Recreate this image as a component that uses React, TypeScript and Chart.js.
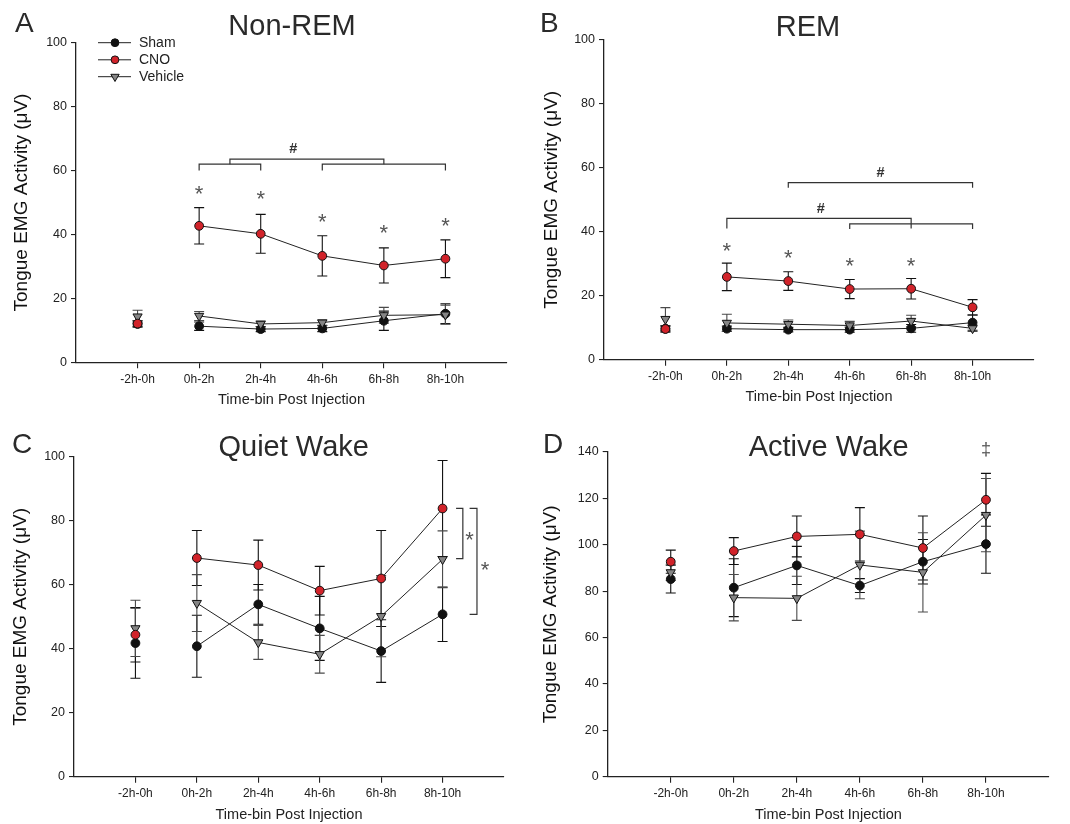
import React, { useEffect, useRef } from "react";
import { Chart, registerables } from "chart.js";

Chart.register(...registerables);

const FONT = "'Liberation Sans', Arial, Helvetica, sans-serif";

// ---------- shared labels ----------
const CATEGORIES = ["-2h-0h", "0h-2h", "2h-4h", "4h-6h", "6h-8h", "8h-10h"];
const SERIES_NAMES = ["Sham", "CNO", "Vehicle"];
const X_TITLE = "Time-bin Post Injection";
const Y_TITLE = "Tongue EMG Activity (\u03bcV)";

// ---------- A: Non-REM ----------
const NREM_SHAM = [12.0, 11.3, 10.4, 10.6, 13.0, 15.2];
const NREM_SHAM_ERR = [1.0, 1.3, 0.8, 1.0, 3.0, 3.1];
const NREM_CNO = [12.1, 42.7, 40.2, 33.3, 30.3, 32.4];
const NREM_CNO_ERR = [0.8, 5.7, 6.1, 6.3, 5.5, 5.9];
const NREM_VEH = [14.3, 14.5, 12.0, 12.4, 14.7, 14.9];
const NREM_VEH_ERR = [2.0, 1.4, 0.9, 0.9, 2.5, 3.0];
const NREM_MARKS = [
  { x: 2, y: 54.6, text: "*" },
  { x: 3, y: 52.8, text: "*" },
  { x: 4, y: 45.8, text: "*" },
  { x: 5, y: 42.4, text: "*" },
  { x: 6, y: 44.3, text: "*" },
  { x: 3.53, y: 67, text: "#" },
];
const NREM_BRACKETS = [
  { x1: 2, x2: 3, y: 62, leg: 60 },
  { x1: 4, x2: 6, y: 62, leg: 60 },
  { x1: 2.5, x2: 5, y: 63.6, leg: 62 },
];

// ---------- B: REM ----------
const REM_SHAM = [9.7, 9.7, 9.4, 9.4, 9.8, 11.6];
const REM_SHAM_ERR = [0.8, 0.8, 0.7, 0.8, 1.2, 2.4];
const REM_CNO = [9.6, 25.9, 24.6, 22.1, 22.2, 16.4];
const REM_CNO_ERR = [1.0, 4.3, 2.9, 3.0, 3.2, 2.4];
const REM_VEH = [12.7, 11.5, 11.1, 10.7, 12.1, 9.8];
const REM_VEH_ERR = [3.6, 2.7, 1.3, 1.3, 1.8, 1.0];
const REM_MARKS = [
  { x: 2, y: 35.9, text: "*" },
  { x: 3, y: 33.5, text: "*" },
  { x: 4, y: 31.0, text: "*" },
  { x: 5, y: 31.0, text: "*" },
  { x: 4.5, y: 58.7, text: "#" },
  { x: 3.53, y: 47.4, text: "#" },
];
const REM_BRACKETS = [
  { x1: 3, x2: 6, y: 55.4, leg: 53.8 },
  { x1: 2, x2: 5, y: 44.2, leg: 41.0 },
  { x1: 4, x2: 6, y: 42.5, leg: 40.9 },
];

// ---------- C: Quiet Wake ----------
const QW_SHAM = [41.8, 40.8, 53.9, 46.4, 39.3, 50.8];
const QW_SHAM_ERR = [11.0, 9.7, 6.2, 10.0, 9.8, 8.5];
const QW_CNO = [44.4, 68.4, 66.2, 58.2, 62.0, 83.9];
const QW_CNO_ERR = [8.5, 8.6, 7.8, 7.6, 15.0, 15.0];
const QW_VEH = [46.4, 54.3, 42.0, 38.3, 50.2, 68.0];
const QW_VEH_ERR = [8.8, 8.9, 5.3, 5.9, 12.7, 8.9];
const QW_MARKS = [
  { x: 6.44, y: 75.9, text: "*" },
  { x: 6.69, y: 66.5, text: "*" },
];
const QW_VBRACKETS = [
  { y1: 83.9, y2: 68.2, x: 6.33, leg: 6.22 },
  { y1: 83.9, y2: 50.8, x: 6.56, leg: 6.44 },
];

// ---------- D: Active Wake ----------
const AW_SHAM = [85.2, 81.5, 91.1, 82.4, 92.7, 100.3];
const AW_SHAM_ERR = [6.0, 12.5, 8.2, 3.0, 9.6, 12.6];
const AW_CNO = [92.7, 97.3, 103.6, 104.5, 98.6, 119.4];
const AW_CNO_ERR = [5.0, 5.8, 8.8, 11.5, 13.8, 11.4];
const AW_VEH = [88.1, 77.2, 76.9, 91.3, 88.1, 112.8];
const AW_VEH_ERR = [3.5, 10.0, 9.5, 14.6, 17.1, 15.8];
const AW_MARKS = [{ x: 6, y: 140.9, text: "\u2021" }];

// ---------- panel specs ----------
type Mark = { x: number; y: number; text: string };
type Bracket = { x1: number; x2: number; y: number; leg: number };
type VBracket = { y1: number; y2: number; x: number; leg: number };
type Spec = {
  letter: string;
  title: string;
  yMax: number;
  sham: number[];
  shamErr: number[];
  cno: number[];
  cnoErr: number[];
  veh: number[];
  vehErr: number[];
  marks: Mark[];
  brackets: Bracket[];
  vbrackets: VBracket[];
  legend: boolean;
};
type Lay = {
  left: number;
  top: number;
  w: number;
  h: number;
  cl: number;
  ct: number;
  cr: number;
  cb: number;
  yTitleX: number;
  xTitleY: number;
  letterX: number;
  letterY: number;
  titleX: number;
  titleY: number;
};

const SPECS: Spec[] = [
  {
    letter: "A", title: "Non-REM", yMax: 100,
    sham: NREM_SHAM, shamErr: NREM_SHAM_ERR, cno: NREM_CNO, cnoErr: NREM_CNO_ERR,
    veh: NREM_VEH, vehErr: NREM_VEH_ERR, marks: NREM_MARKS, brackets: NREM_BRACKETS,
    vbrackets: [], legend: true,
  },
  {
    letter: "B", title: "REM", yMax: 100,
    sham: REM_SHAM, shamErr: REM_SHAM_ERR, cno: REM_CNO, cnoErr: REM_CNO_ERR,
    veh: REM_VEH, vehErr: REM_VEH_ERR, marks: REM_MARKS, brackets: REM_BRACKETS,
    vbrackets: [], legend: false,
  },
  {
    letter: "C", title: "Quiet Wake", yMax: 100,
    sham: QW_SHAM, shamErr: QW_SHAM_ERR, cno: QW_CNO, cnoErr: QW_CNO_ERR,
    veh: QW_VEH, vehErr: QW_VEH_ERR, marks: QW_MARKS, brackets: [],
    vbrackets: QW_VBRACKETS, legend: false,
  },
  {
    letter: "D", title: "Active Wake", yMax: 140,
    sham: AW_SHAM, shamErr: AW_SHAM_ERR, cno: AW_CNO, cnoErr: AW_CNO_ERR,
    veh: AW_VEH, vehErr: AW_VEH_ERR, marks: AW_MARKS, brackets: [],
    vbrackets: [], legend: false,
  },
];

const LAYOUTS: Lay[] = [
  { left: 0, top: 0, w: 535, h: 412, cl: 76, ct: 42.7, cr: 507, cb: 362.3, yTitleX: 22, xTitleY: 400, letterX: 15, letterY: 32, titleX: 292, titleY: 35 },
  { left: 535, top: 0, w: 535, h: 412, cl: 69, ct: 40, cr: 499, cb: 359.7, yTitleX: 17, xTitleY: 396.7, letterX: 5, letterY: 32, titleX: 273, titleY: 36 },
  { left: 0, top: 412, w: 535, h: 412, cl: 74, ct: 45, cr: 504, cb: 364.7, yTitleX: 21, xTitleY: 403, letterX: 12, letterY: 41.3, titleX: 293.7, titleY: 44 },
  { left: 535, top: 412, w: 535, h: 412, cl: 72.7, ct: 40, cr: 514, cb: 364.7, yTitleX: 16, xTitleY: 403, letterX: 8, letterY: 40.7, titleX: 293.7, titleY: 43.7 },
];

const RED = "#d1232a";
const GRAY = "#858585";
const BLACK = "#111";
const LINE = "#222";
const AXIS = "#222";

const Y_TITLE_SIZE = 19;
const X_TITLE_SIZE = 14.5;

function toPoints(vals: number[]) {
  return vals.map((v, i) => ({ x: i + 1, y: v }));
}

function drawMarker(ctx: CanvasRenderingContext2D, kind: string, x: number, y: number, r: number, fill: string) {
  ctx.beginPath();
  if (kind === "circle") {
    ctx.arc(x, y, r, 0, Math.PI * 2);
  } else {
    ctx.moveTo(x, y + r);
    ctx.lineTo(x - r * Math.sin(Math.PI / 3), y - r / 2);
    ctx.lineTo(x + r * Math.sin(Math.PI / 3), y - r / 2);
    ctx.closePath();
  }
  ctx.fillStyle = fill;
  ctx.fill();
  ctx.lineWidth = 1;
  ctx.strokeStyle = BLACK;
  ctx.stroke();
}

const errorBarPlugin = {
  id: "errorBars",
  beforeDatasetsDraw(chart: any) {
    const ctx = chart.ctx as CanvasRenderingContext2D;
    const xs = chart.scales.x;
    const ys = chart.scales.y;
    chart.data.datasets.forEach((ds: any) => {
      ctx.save();
      ctx.strokeStyle = ds.errColor;
      ctx.lineWidth = 1.1;
      ds.data.forEach((p: any, j: number) => {
        const e = ds.errors[j];
        const x = xs.getPixelForValue(p.x);
        const yt = ys.getPixelForValue(p.y + e);
        const yb = ys.getPixelForValue(p.y - e);
        ctx.beginPath();
        ctx.moveTo(x, yt);
        ctx.lineTo(x, yb);
        ctx.moveTo(x - 5, yt);
        ctx.lineTo(x + 5, yt);
        ctx.moveTo(x - 5, yb);
        ctx.lineTo(x + 5, yb);
        ctx.stroke();
      });
      ctx.restore();
    });
  },
};

function makeDeco(spec: Spec, lay: Lay) {
  return {
    id: "deco" + spec.letter,
    afterDatasetsDraw(chart: any) {
      const ctx = chart.ctx as CanvasRenderingContext2D;
      const xs = chart.scales.x;
      const ys = chart.scales.y;
      const px = (v: number) => xs.getPixelForValue(v);
      const py = (v: number) => ys.getPixelForValue(v);
      ctx.save();
      ctx.strokeStyle = "#333";
      ctx.lineWidth = 1.2;
      spec.brackets.forEach((b) => {
        ctx.beginPath();
        ctx.moveTo(px(b.x1), py(b.leg));
        ctx.lineTo(px(b.x1), py(b.y));
        ctx.lineTo(px(b.x2), py(b.y));
        ctx.lineTo(px(b.x2), py(b.leg));
        ctx.stroke();
      });
      spec.vbrackets.forEach((b) => {
        ctx.beginPath();
        ctx.moveTo(px(b.leg), py(b.y1));
        ctx.lineTo(px(b.x), py(b.y1));
        ctx.lineTo(px(b.x), py(b.y2));
        ctx.lineTo(px(b.leg), py(b.y2));
        ctx.stroke();
      });
      ctx.textAlign = "center";
      ctx.textBaseline = "alphabetic";
      spec.marks.forEach((m) => {
        let size = 22;
        let shift = 0.58;
        let weight = "";
        if (m.text === "#") {
          size = 14.5;
          shift = 0.36;
          weight = "bold ";
          ctx.fillStyle = "#333";
        } else if (m.text === "\u2021") {
          size = 18;
          shift = 0.3;
          ctx.fillStyle = "#555";
        } else {
          ctx.fillStyle = "#555";
        }
        ctx.font = `${weight}${size}px ${FONT}`;
        ctx.fillText(m.text, px(m.x), py(m.y) + shift * size);
      });
      ctx.restore();
    },
    afterDraw(chart: any) {
      const ctx = chart.ctx as CanvasRenderingContext2D;
      ctx.save();
      ctx.fillStyle = "#2a2a2a";
      ctx.textBaseline = "alphabetic";
      ctx.textAlign = "left";
      ctx.font = `28px ${FONT}`;
      ctx.fillText(spec.letter, lay.letterX, lay.letterY);
      ctx.textAlign = "center";
      ctx.font = `29px ${FONT}`;
      ctx.fillText(spec.title, lay.titleX, lay.titleY);
      if (spec.legend) {
        const rows = [
          { name: SERIES_NAMES[0], kind: "circle", fill: BLACK, r: 3.9 },
          { name: SERIES_NAMES[1], kind: "circle", fill: RED, r: 3.9 },
          { name: SERIES_NAMES[2], kind: "triangle", fill: GRAY, r: 4.8 },
        ];
        const rowY = [42.7, 59.8, 76.7];
        rows.forEach((row, i) => {
          const y = rowY[i];
          ctx.beginPath();
          ctx.strokeStyle = LINE;
          ctx.lineWidth = 1;
          ctx.moveTo(98, y);
          ctx.lineTo(131, y);
          ctx.stroke();
          drawMarker(ctx, row.kind, 115, y, row.r, row.fill);
          ctx.fillStyle = "#222";
          ctx.textAlign = "left";
          ctx.textBaseline = "middle";
          ctx.font = `14px ${FONT}`;
          ctx.fillText(row.name, 139, y + 0.5);
        });
      }
      ctx.restore();
    },
  };
}

function Panel({ spec, lay }: { spec: Spec; lay: Lay }) {
  const ref = useRef<HTMLCanvasElement | null>(null);
  useEffect(() => {
    if (!ref.current) return;
    const yTitleLH = Y_TITLE_SIZE * 1.2;
    const xTitleLH = X_TITLE_SIZE * 1.2;
    const padLeft = lay.yTitleX - yTitleLH / 2;
    const padBottom = lay.h - lay.xTitleY - xTitleLH / 2;
    const yWidth = lay.cl - padLeft;
    const xHeight = lay.h - padBottom - lay.cb;
    const seg = (c: any) => (c.p0DataIndex === 0 ? "rgba(0,0,0,0)" : LINE);
    const common = {
      type: "line",
      showLine: true,
      borderColor: LINE,
      borderWidth: 1,
      pointBorderColor: BLACK,
      pointBorderWidth: 1,
      segment: { borderColor: seg },
      fill: false,
      tension: 0,
    };
    const chart = new Chart(ref.current, {
      type: "line",
      data: {
        datasets: [
          {
            ...common,
            label: SERIES_NAMES[0],
            data: toPoints(spec.sham),
            errors: spec.shamErr,
            errColor: BLACK,
            order: 2,
            pointStyle: "circle",
            pointRadius: 4.4,
            pointBackgroundColor: BLACK,
          },
          {
            ...common,
            label: SERIES_NAMES[1],
            data: toPoints(spec.cno),
            errors: spec.cnoErr,
            errColor: BLACK,
            order: 0,
            pointStyle: "circle",
            pointRadius: 4.4,
            pointBackgroundColor: RED,
          },
          {
            ...common,
            label: SERIES_NAMES[2],
            data: toPoints(spec.veh),
            errors: spec.vehErr,
            errColor: "#4a4a4a",
            order: 1,
            pointStyle: "triangle",
            pointRotation: 180,
            pointRadius: 5.3,
            pointBackgroundColor: GRAY,
          },
        ] as any,
      },
      options: {
        animation: false,
        responsive: false,
        events: [],
        layout: {
          padding: { left: padLeft, top: lay.ct, right: lay.w - lay.cr, bottom: padBottom },
        },
        plugins: {
          legend: { display: false },
          title: { display: false },
          tooltip: { enabled: false },
        },
        scales: {
          x: {
            type: "linear",
            min: 0,
            max: 7,
            afterBuildTicks: (s: any) => {
              s.ticks = CATEGORIES.map((_, i) => ({ value: i + 1 }));
            },
            afterFit: (s: any) => {
              s.height = xHeight;
            },
            ticks: {
              autoSkip: false,
              maxRotation: 0,
              padding: 4,
              color: "#222",
              font: { family: FONT, size: 12 },
              callback: (v: any) => CATEGORIES[Number(v) - 1] ?? "",
            },
            grid: { drawOnChartArea: false, drawTicks: true, tickLength: 6, color: AXIS, lineWidth: 1.1 },
            border: { display: true, color: AXIS, width: 1.3 },
            title: {
              display: true,
              text: X_TITLE,
              color: "#222",
              font: { family: FONT, size: X_TITLE_SIZE },
              padding: { top: 0, bottom: 0 },
            },
          },
          y: {
            type: "linear",
            min: 0,
            max: spec.yMax,
            afterFit: (s: any) => {
              s.width = yWidth;
            },
            ticks: {
              stepSize: 20,
              padding: 4,
              color: "#222",
              font: { family: FONT, size: 12.5 },
            },
            grid: { drawOnChartArea: false, drawTicks: true, tickLength: 5, color: AXIS, lineWidth: 1.1 },
            border: { display: true, color: AXIS, width: 1.3 },
            title: {
              display: true,
              text: Y_TITLE,
              color: "#111",
              font: { family: FONT, size: Y_TITLE_SIZE },
              padding: { top: 0, bottom: 0 },
            },
          },
        },
      } as any,
      plugins: [errorBarPlugin, makeDeco(spec, lay)],
    } as any);
    return () => chart.destroy();
  }, [spec, lay]);
  return (
    <div style={{ position: "absolute", left: lay.left, top: lay.top, width: lay.w, height: lay.h }}>
      <canvas ref={ref} width={lay.w} height={lay.h} style={{ display: "block", width: lay.w, height: lay.h }} />
    </div>
  );
}

export default function App() {
  return (
    <div style={{ position: "absolute", left: 0, top: 0, width: 1070, height: 824, background: "#fff", overflow: "hidden" }}>
      {SPECS.map((s, i) => (
        <Panel key={s.letter} spec={s} lay={LAYOUTS[i]} />
      ))}
    </div>
  );
}
